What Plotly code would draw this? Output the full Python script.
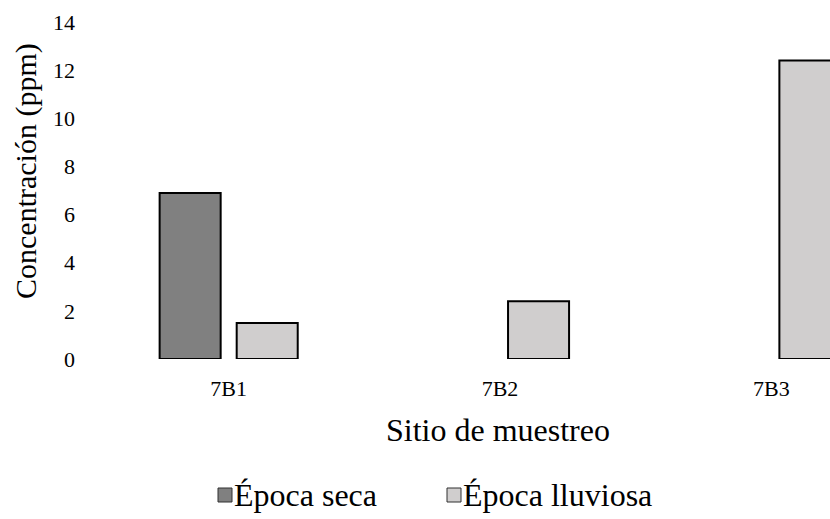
import plotly.graph_objects as go

# Concentration per sampling site, dry vs rainy season (no dry-season value at 7B2 / 7B3)
sitios = ["7B1", "7B2", "7B3"]
epoca_seca = [6.9, None, None]
epoca_lluviosa = [1.5, 2.4, 12.4]
y_ticks = [0, 2, 4, 6, 8, 10, 12, 14]

series_names = ["Época seca", "Época lluviosa"]
series_colors = ["#808080", "#D0CECE"]

FONT = "Liberation Serif"
W, H = 830, 519
L, T, B = 93, 22, 160
plot_w = W - L
plot_h = H - T - B


def px_x(px):
    return (px - L) / plot_w


def px_y(py):
    return (H - B - py) / plot_h


fig = go.Figure()
for name, vals, col in zip(series_names, [epoca_seca, epoca_lluviosa], series_colors):
    fig.add_trace(go.Bar(
        x=sitios, y=vals, name=name, showlegend=False,
        marker=dict(color=col, line=dict(color="#000000", width=2)),
    ))

# legend drawn as swatches + labels below the axis title
legend_x = [(218, 233), (447, 462)]
shapes = []
annotations = []
for (sx, tx), name, col in zip(legend_x, series_names, series_colors):
    shapes.append(dict(
        type="rect", xref="paper", yref="paper",
        x0=px_x(sx), x1=px_x(sx + 14), y0=px_y(502), y1=px_y(488),
        fillcolor=col, line=dict(color="#303030", width=1),
    ))
    annotations.append(dict(
        text=name, xref="paper", yref="paper",
        x=px_x(tx), y=px_y(495), xanchor="left", yanchor="middle",
        showarrow=False, borderpad=0,
        font=dict(family=FONT, size=32, color="#000000"),
    ))

annotations.append(dict(
    text="Sitio de muestreo", xref="paper", yref="paper",
    x=px_x(498), y=px_y(430), xanchor="center", yanchor="middle",
    showarrow=False, font=dict(family=FONT, size=32, color="#000000"),
))
annotations.append(dict(
    text="Concentración (ppm)", xref="paper", yref="paper",
    x=px_x(26), y=px_y(171), xanchor="center", yanchor="middle", textangle=-90,
    showarrow=False, font=dict(family=FONT, size=30, color="#000000"),
))

fig.update_layout(
    width=W, height=H,
    margin=dict(l=L, r=0, t=T, b=B, autoexpand=False),
    plot_bgcolor="white", paper_bgcolor="white",
    barmode="group", bargap=0.432, bargroupgap=0.208,
    font=dict(family=FONT, color="#000000"),
    showlegend=False,
    xaxis=dict(
        type="category", range=[-0.5, (W - 229) / 271.2],
        showgrid=False, zeroline=False, showline=False, ticks="",
        tickfont=dict(family=FONT, size=22, color="#000000"),
        ticklabelstandoff=14,
    ),
    yaxis=dict(
        range=[0, 14], tickvals=y_ticks,
        showgrid=False, zeroline=False, showline=False, ticks="",
        tickfont=dict(family=FONT, size=22, color="#000000"),
        ticklabelstandoff=17,
    ),
    shapes=shapes,
    annotations=annotations,
)

fig.write_html("out.html")
